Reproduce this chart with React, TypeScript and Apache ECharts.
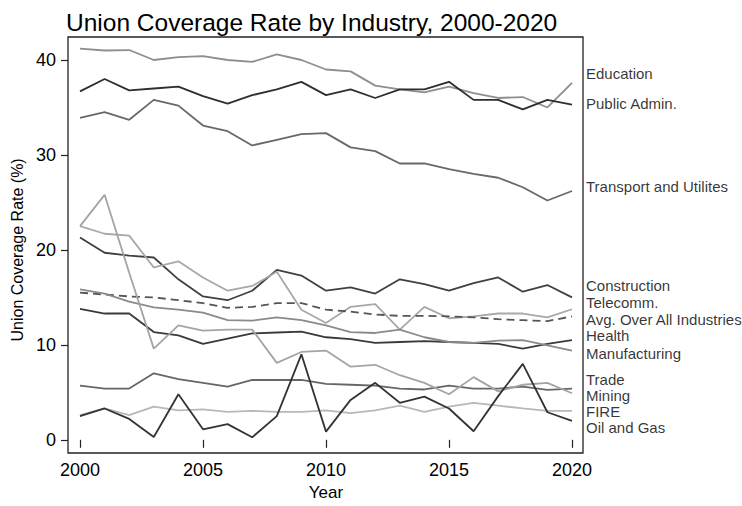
import React, { useEffect, useRef } from "react";
import * as echarts from "echarts";

const years = [2000, 2001, 2002, 2003, 2004, 2005, 2006, 2007, 2008, 2009, 2010, 2011, 2012, 2013, 2014, 2015, 2016, 2017, 2018, 2019, 2020];

const education = [41.2, 41.0, 41.05, 40.0, 40.3, 40.4, 40.0, 39.8, 40.6, 40.0, 39.0, 38.8, 37.3, 36.9, 36.6, 37.2, 36.5, 36.0, 36.1, 35.0, 37.6];
const publicAdmin = [36.7, 38.0, 36.8, 37.0, 37.2, 36.2, 35.4, 36.3, 36.9, 37.7, 36.3, 36.9, 36.0, 36.9, 36.9, 37.7, 35.8, 35.8, 34.8, 35.8, 35.3];
const transport = [33.9, 34.5, 33.7, 35.8, 35.2, 33.1, 32.5, 31.0, 31.6, 32.2, 32.3, 30.8, 30.4, 29.1, 29.1, 28.5, 28.0, 27.6, 26.6, 25.2, 26.2];
const construction = [21.3, 19.7, 19.4, 19.2, 16.9, 15.1, 14.7, 15.7, 17.9, 17.3, 15.7, 16.05, 15.4, 16.9, 16.4, 15.7, 16.5, 17.1, 15.6, 16.3, 15.0];
const telecomm = [22.5, 21.7, 21.5, 18.15, 18.8, 17.1, 15.7, 16.2, 17.7, 13.7, 12.3, 14.0, 14.3, 11.6, 14.0, 12.8, 13.0, 13.3, 13.3, 12.9, 13.75];
const average = [15.5, 15.3, 15.1, 15.0, 14.7, 14.4, 13.9, 14.0, 14.4, 14.4, 13.7, 13.5, 13.2, 13.05, 13.05, 13.0, 12.9, 12.7, 12.6, 12.5, 13.0];
const health = [13.8, 13.3, 13.3, 11.35, 11.0, 10.1, 10.65, 11.2, 11.3, 11.4, 10.8, 10.6, 10.2, 10.3, 10.4, 10.3, 10.2, 10.1, 9.6, 10.1, 10.5];
const manufacturing = [15.85, 15.4, 14.55, 13.95, 13.7, 13.4, 12.6, 12.55, 12.9, 12.6, 12.05, 11.35, 11.25, 11.6, 10.8, 10.3, 10.2, 10.45, 10.5, 9.95, 9.4];
const trade = [5.7, 5.4, 5.4, 7.0, 6.4, 6.0, 5.6, 6.3, 6.3, 6.3, 5.9, 5.8, 5.7, 5.4, 5.3, 5.7, 5.4, 5.4, 5.6, 5.25, 5.4];
const mining = [22.5, 25.8, 17.6, 9.6, 12.05, 11.5, 11.6, 11.6, 8.1, 9.25, 9.4, 7.7, 7.9, 6.8, 6.0, 4.8, 6.6, 5.1, 5.8, 6.0, 4.9];
const fire = [2.6, 3.3, 2.6, 3.5, 3.1, 3.2, 2.95, 3.05, 2.95, 2.95, 3.1, 2.8, 3.1, 3.6, 2.95, 3.5, 3.9, 3.6, 3.3, 3.05, 3.05];
const oilGas = [2.5, 3.3, 2.2, 0.3, 4.8, 1.1, 1.65, 0.26, 2.5, 9.0, 0.86, 4.2, 6.0, 3.9, 4.55, 3.3, 0.9, 4.6, 8.0, 2.9, 2.0];

const labelNames = ["Education", "Public Admin.", "Transport and Utilites", "Construction", "Telecomm.", "Avg. Over All Industries", "Health", "Manufacturing", "Trade", "Mining", "FIRE", "Oil and Gas"];
const labelValues = [38.6, 35.4, 26.7, 16.3, 14.5, 12.7, 11.0, 9.1, 6.3, 4.65, 3.0, 1.3];

const xTicks = [2000, 2005, 2010, 2015, 2020];
const yTicks = [0, 10, 20, 30, 40];

const FONT = "'Liberation Sans', Arial, Helvetica, sans-serif";

type Line = { name: string; data: number[]; color: string; dashed?: boolean };

const lines: Line[] = [
  { name: "Education", data: education, color: "#8e8e8e" },
  { name: "Public Admin.", data: publicAdmin, color: "#2e2e2e" },
  { name: "Transport and Utilites", data: transport, color: "#686868" },
  { name: "Construction", data: construction, color: "#404040" },
  { name: "Telecomm.", data: telecomm, color: "#a8a8a8" },
  { name: "Avg. Over All Industries", data: average, color: "#555555", dashed: true },
  { name: "Health", data: health, color: "#3a3a3a" },
  { name: "Manufacturing", data: manufacturing, color: "#8a8a8a" },
  { name: "Trade", data: trade, color: "#666666" },
  { name: "Mining", data: mining, color: "#a4a4a4" },
  { name: "FIRE", data: fire, color: "#b8b8b8" },
  { name: "Oil and Gas", data: oilGas, color: "#333333" },
];

export default function App() {
  const ref = useRef<HTMLDivElement>(null);
  useEffect(() => {
    if (!ref.current) return;
    const chart = echarts.init(ref.current, undefined, { renderer: "svg" });
    const series: any[] = lines.map((l) => ({
      type: "line",
      name: l.name,
      data: years.map((y, i) => [y, l.data[i]]),
      showSymbol: false,
      symbol: "none",
      clip: false,
      lineStyle: { color: l.color, width: 1.8, type: l.dashed ? [8, 5] : "solid" },
      itemStyle: { color: l.color },
    }));
    series.push({
      type: "scatter",
      name: "labels",
      symbolSize: 0,
      clip: false,
      data: labelNames.map((n, i) => ({ value: [years[years.length - 1], labelValues[i]], name: n })),
      label: {
        show: true,
        position: "right",
        distance: 14,
        formatter: (p: any) => p.name,
        color: "#000",
        fontSize: 15,
        fontFamily: FONT,
      },
      silent: true,
    });
    chart.setOption({
      animation: false,
      backgroundColor: "#fff",
      title: {
        text: "Union Coverage Rate by Industry, 2000-2020",
        left: 61,
        top: 5,
        textStyle: { fontSize: 24.5, fontWeight: "normal", color: "#000", fontFamily: FONT },
      },
      grid: { left: 80, right: 170, top: 60, bottom: 63.3, containLabel: false },
      xAxis: {
        type: "value",
        min: xTicks[0],
        max: xTicks[xTicks.length - 1],
        interval: 5,
        offset: 10.3,
        name: "Year",
        nameLocation: "middle",
        nameGap: 32,
        nameTextStyle: { fontSize: 17, color: "#000", fontFamily: FONT },
        axisLine: { show: false },
        axisTick: { show: true, length: 8, lineStyle: { color: "#222", width: 1.2 } },
        axisLabel: { fontSize: 18, color: "#000", margin: 11, fontFamily: FONT, formatter: (v: number) => String(v) },
        splitLine: { show: false },
      },
      yAxis: {
        type: "value",
        min: yTicks[0],
        max: yTicks[yTicks.length - 1],
        interval: 10,
        offset: 12,
        name: "Union Coverage Rate (%)",
        nameLocation: "middle",
        nameRotate: 90,
        nameGap: 34,
        nameTextStyle: { fontSize: 16, color: "#000", fontFamily: FONT },
        axisLine: { show: false },
        axisTick: { show: true, length: 7, lineStyle: { color: "#222", width: 1.2 } },
        axisLabel: { fontSize: 18, color: "#000", margin: 12, fontFamily: FONT, formatter: (v: number) => String(v) },
        splitLine: { show: false },
      },
      graphic: [
        {
          type: "rect",
          shape: { x: 68, y: 37, width: 515, height: 416 },
          style: { fill: "none", stroke: "#222", lineWidth: 1.3 },
          silent: true,
          z: 10,
        },
      ],
      series,
    });
    return () => chart.dispose();
  }, []);
  return <div ref={ref} style={{ width: 742, height: 506, position: "absolute", left: 0, top: 0 }} />;
}
